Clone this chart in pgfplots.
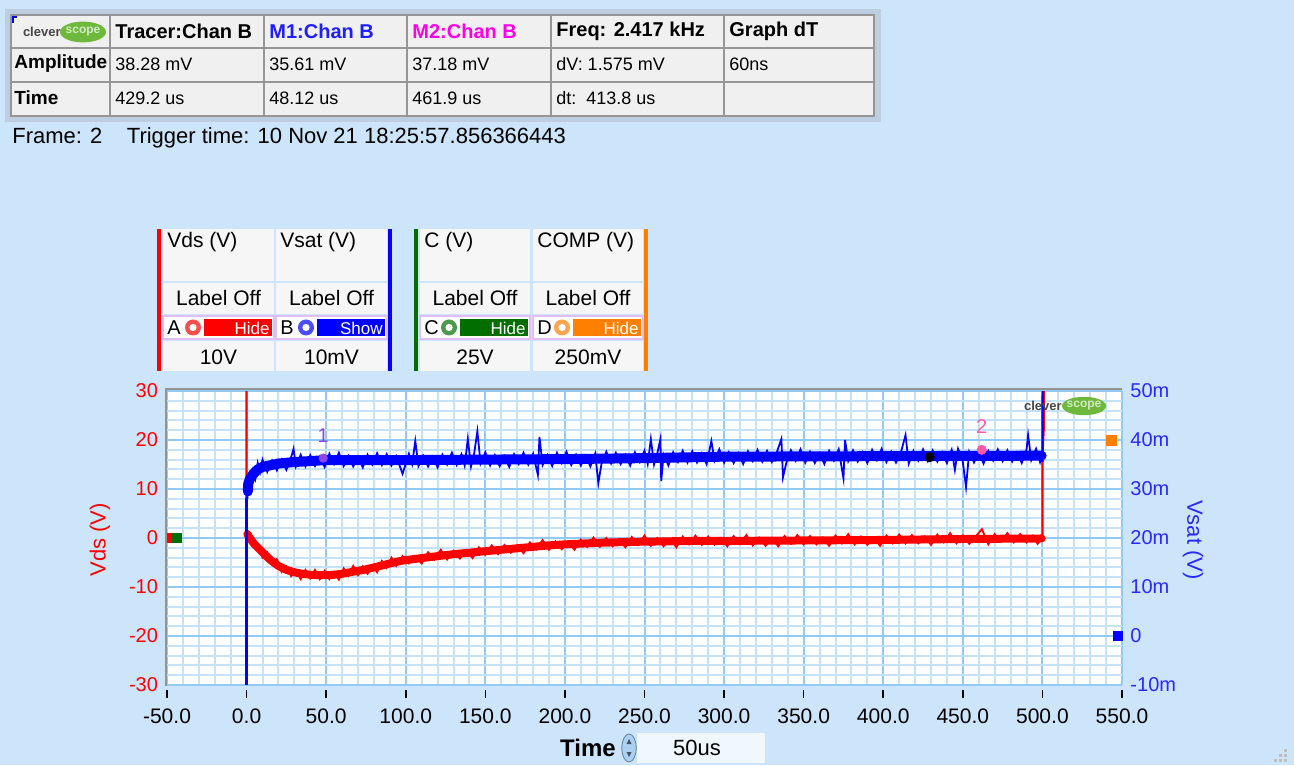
\documentclass[border=0pt]{standalone}
\usepackage{fontspec}
\setmainfont{Liberation Sans}
\usepackage{pgfplots}
\pgfplotsset{compat=1.18}
\definecolor{bg}{RGB}{204,229,250}
\definecolor{gridmin}{RGB}{196,226,250}
\definecolor{gridmaj}{RGB}{145,202,245}
\definecolor{vred}{RGB}{255,0,0}
\definecolor{vblue}{RGB}{0,0,255}
\definecolor{tblue}{RGB}{40,40,255}
\definecolor{cgreen}{RGB}{0,110,0}
\definecolor{corange}{RGB}{255,128,0}
\definecolor{cellbg}{RGB}{240,240,240}
\definecolor{cellline}{RGB}{150,150,150}
\definecolor{frameblue}{RGB}{188,206,224}
\definecolor{m1col}{RGB}{30,30,255}
\definecolor{m2col}{RGB}{255,0,230}
\definecolor{mk1}{RGB}{140,70,230}
\definecolor{mk2}{RGB}{250,90,170}
\definecolor{logogreen}{RGB}{110,185,60}
\definecolor{logotext}{RGB}{70,70,70}
\definecolor{panelbg}{RGB}{246,246,246}
\definecolor{lav}{RGB}{225,190,245}
\definecolor{spin}{RGB}{170,210,240}
\newcommand{\fs}[1]{\fontsize{#1}{#1}\selectfont}
\begin{document}
\begin{tikzpicture}
\path[use as bounding box] (0,0) rectangle (647pt,382.5pt);
\fill[bg] (0,0) rectangle (647pt,382.5pt);
\begin{scope}[x=0.5pt,y=-0.5pt,shift={(0pt,382.5pt)}]
% ---------- top table ----------
\fill[frameblue] (5,9) rectangle (881,122);
\fill[cellbg] (11,15) rectangle (874,116);
\draw[cellline, line width=0.6pt] (11,15) rectangle (874,116);
\foreach \y in {48,82} \draw[cellline, line width=0.6pt] (11,\y) -- (874,\y);
\foreach \x in {110,264,407,551,724} \draw[cellline, line width=0.6pt] (\x,15) -- (\x,116);
\draw[vblue, line width=0.8pt] (13,23) -- (13,17) -- (17,17);
\fill[logogreen] (83,32) ellipse (11.5pt and 5.2pt);
\node[anchor=east, font=\bfseries\fs{6.5}, text=logotext, inner sep=0] at (61,32) {clever};
\node[inner sep=0, font=\bfseries\fs{6}, text=white!70!logogreen] at (83,32) {scope};
\begin{scope}[every node/.style={anchor=west, inner sep=0}]
\node[font=\bfseries\fs{10}] at (115,31) {Tracer:Chan B};
\node[font=\bfseries\fs{10}, text=m1col] at (269,31) {M1:Chan B};
\node[font=\bfseries\fs{10}, text=m2col] at (412,31) {M2:Chan B};
\node[font=\bfseries\fs{10}] at (556,31) {Freq: 2.417 kHz};
\node[font=\bfseries\fs{10}] at (729,31) {Graph dT};
\node[font=\bfseries\fs{9.5}] at (14,64) {Amplitude};
\node[font=\fs{9}] at (115,64) {38.28 mV};
\node[font=\fs{9}] at (269,64) {35.61 mV};
\node[font=\fs{9}] at (412,64) {37.18 mV};
\node[font=\fs{9}] at (556,64) {dV: 1.575 mV};
\node[font=\fs{9}] at (729,64) {60ns};
\node[font=\bfseries\fs{9.5}] at (14,98) {Time};
\node[font=\fs{9}] at (115,98) {429.2 us};
\node[font=\fs{9}] at (269,98) {48.12 us};
\node[font=\fs{9}] at (412,98) {461.9 us};
\node[font=\fs{9}] at (556,98) {dt:\ \ 413.8 us};
\node[font=\fs{11}] at (12,138) {Frame: 2\ \ \ \ Trigger time: 10 Nov 21 18:25:57.856366443};
\end{scope}
% ---------- channel panel ----------
\fill[vred] (157,229) rectangle (161,371);
\fill[vblue] (388,229) rectangle (392,371);
\fill[cgreen] (414,229) rectangle (418,371);
\fill[corange] (644,229) rectangle (648,371);
\foreach \xa/\xb/\ti/\va/\le/\co/\bt/\rx in {163/274/{Vds (V)}/10V/A/vred/Hide/204, 276/387/{Vsat (V)}/10mV/B/vblue/Show/317, 420/530/{C (V)}/25V/C/cgreen/Hide/460, 533/643/{COMP (V)}/250mV/D/corange/Hide/573}{
  \fill[panelbg] (\xa,229) rectangle (\xb,281);
  \fill[panelbg] (\xa,283) rectangle (\xb,314);
  \filldraw[fill=white, draw=lav, line width=0.7pt] (\xa,316) rectangle (\xb,339);
  \fill[panelbg] (\xa,341) rectangle (\xb,371);
  \node[anchor=west, inner sep=0, font=\fs{10.5}] at (\xa+4,242) {\ti};
  \node[inner sep=0, font=\fs{10.5}] at ({(\xa+\xb)/2},298) {Label Off};
  \node[anchor=west, inner sep=0, font=\fs{10}] at (\xa+4,328) {\le};
  \fill[\co!70] (\rx-11,327.5) circle (4pt);
  \fill[white] (\rx-11,327.5) circle (1.8pt);
  \fill[\co] (\rx,319) rectangle (\xb-2,336);
  \node[anchor=east, inner sep=0, text=white, font=\fs{8.5}] at (\xb-4,328) {\bt};
  \node[inner sep=0, font=\fs{10.5}] at ({(\xa+\xb)/2},357) {\va};
}
% ---------- axis titles ----------
\node[rotate=90, text=vred, font=\fs{11}] at (100,540) {Vds (V)};
\node[rotate=-90, text=tblue, font=\fs{11}] at (1193,540) {Vsat (V)};
% ---------- bottom time control ----------
\node[font=\bfseries\fs{12}] at (588,748) {Time};
\fill[white!70!bg] (637,733) rectangle (765,763);
\filldraw[fill=spin, draw=spin!60!black, line width=0.4pt] (629,748) ellipse (3.6pt and 7pt);
\fill[spin!40!black] (626.5,744) -- (631.5,744) -- (629,739) -- cycle;
\fill[spin!40!black] (626.5,752) -- (631.5,752) -- (629,757) -- cycle;
\node[font=\fs{11}] at (697,748) {50us};
\foreach \p in {(1284,749),(1279,754),(1284,754),(1274,759),(1279,759),(1284,759)} \fill[gray!50] \p rectangle ++(3,3);
\end{scope}
% ================= left axis (Vds) =================
\begin{axis}[
  at={(83.5pt,40pt)}, anchor=south west,
  width=477.5pt, height=147pt, scale only axis,
  xmin=-50, xmax=550, ymin=-30, ymax=30,
  axis background/.style={fill=white},
  axis line style={draw=none},
  xtick={-50,0,...,550},
  xticklabels={-50.0,0.0,50.0,100.0,150.0,200.0,250.0,300.0,350.0,400.0,450.0,500.0,550.0},
  ytick={-30,-20,...,30},
  yticklabels={-30,-20,-10,0,10,20,30},
  minor x tick num=4, minor y tick num=4,
  grid=both,
  major grid style={draw=gridmaj, line width=1pt},
  minor grid style={draw=gridmin, line width=1pt},
  xtick pos=bottom, ytick pos=left,
  tick align=outside,
  major tick length=4pt, minor tick length=0pt,
  xtick style={draw=black, line width=0.8pt, yshift=-2.5pt},
  ytick style={draw=none},
  xticklabel style={font=\fs{10.5}, text=black, yshift=-4.5pt},
  yticklabel style={font=\fs{10}, text=vred, xshift=3pt},
]
\addplot[vred, line width=1.1pt] coordinates {(0,32)(0,1.5)(0.5,0.8)};
\addplot[vred, line width=1.1pt] coordinates {(499.5,-0.1)(500,0)(500,17)(500.8,22)(500.8,33)};
\addplot[vred, line width=4pt, line join=round, line cap=round] coordinates {
(0.5,0.8)(2,0)(5,-1.3)(10,-2.9)(15,-4.5)(20,-5.7)(25,-6.5)(30,-7.0)(35,-7.3)(40,-7.5)(45,-7.6)(50,-7.6)(55,-7.5)(60,-7.3)(65,-7.0)(70,-6.7)(75,-6.4)(80,-6.0)(85,-5.6)(90,-5.2)(95,-4.8)(100,-4.5)(110,-4.1)(120,-3.7)(130,-3.3)(140,-3.0)(150,-2.7)(160,-2.4)(170,-2.1)(180,-1.8)(190,-1.5)(200,-1.3)(220,-1.0)(240,-0.8)(260,-0.7)(280,-0.6)(300,-0.6)(350,-0.5)(400,-0.4)(450,-0.2)(499.5,-0.1)};
\addplot[vred, line width=0.9pt] coordinates {
(1,1.3)(4,-1.7)(7,-1.4)(10,-4.0)(13,-2.9)(16,-5.3)(19,-4.3)(22,-6.9)(25,-5.8)(28,-7.8)(31,-6.6)(34,-8.4)(37,-6.5)(40,-8.2)(43,-6.5)(46,-8.4)(49,-6.7)(52,-8.4)(55,-6.9)(58,-8.5)(61,-6.2)(64,-7.7)(67,-5.7)(70,-7.6)(73,-5.8)(76,-7.3)(79,-5.6)(82,-7.0)(85,-4.7)(88,-6.1)(91,-4.0)(94,-5.7)(98,-3.7)(102,-5.2)(106,-3.7)(110,-5.2)(114,-2.9)(118,-4.4)(122,-2.4)(126,-4.4)(130,-2.6)(134,-4.2)(138,-2.6)(142,-4.1)(146,-1.9)(150,-3.4)(154,-1.5)(158,-3.3)(162,-1.4)(166,-3.0)(170,-1.5)(174,-3.1)(178,-0.9)(182,-2.3)(186,-0.4)(190,-2.4)(194,-0.7)(198,-2.3)(202,-0.8)(206,-2.4)(210,-0.3)(214,-1.8)(218,0.1)(222,-1.8)(226,0.0)(230,-1.7)(234,-0.3)(238,-1.9)(242,0.2)(246,-1.4)(250,0.5)(254,-1.6)(258,0.0)(262,-1.7)(266,-0.2)(270,-1.9)(274,0.3)(278,-1.3)(282,0.5)(286,-1.4)(290,0.3)(294,-1.4)(298,0.0)(302,-1.7)(306,0.4)(310,-1.2)(314,0.6)(318,-1.5)(322,0.1)(326,-1.6)(330,0.0)(334,-1.7)(338,0.4)(342,-1.2)(346,0.6)(350,-1.3)(354,0.4)(358,-1.3)(362,0.1)(366,-1.6)(370,0.5)(374,-1.1)(378,0.8)(382,-1.3)(386,0.3)(390,-1.4)(394,0.1)(398,-1.6)(402,0.5)(406,-1.1)(410,0.7)(414,-1.1)(418,0.6)(422,-1.1)(426,0.3)(430,-1.4)(434,0.7)(438,-0.9)(442,1.0)(446,-1.1)(450,0.5)(454,-1.2)(458,0.3)(462,1.8)(466,-1.3)(470,0.8)(474,-0.8)(478,1.0)(482,-0.9)(486,0.8)(490,-0.9)(494,0.5)(497,-1.2)(499.5,-0.1)};
\addplot[only marks, mark=square*, mark size=2.25pt, vred] coordinates {(-48.2,0)};
\addplot[only marks, mark=square*, mark size=2.25pt, cgreen] coordinates {(-43.7,0)};
\addplot[only marks, mark=square*, mark size=2.5pt, corange] coordinates {(543.6,20)};
\end{axis}
% ================= right axis (Vsat) =================
\begin{axis}[
  at={(83.5pt,40pt)}, anchor=south west,
  width=477.5pt, height=147pt, scale only axis,
  xmin=-50, xmax=550, ymin=-10, ymax=50,
  hide x axis,
  axis y line*=right,
  axis line style={draw=none},
  ytick={-10,0,...,50},
  yticklabels={-10m,0,10m,20m,30m,40m,50m},
  major tick length=0pt, minor tick length=0pt,
  ytick style={draw=none},
  yticklabel style={font=\fs{10}, text=tblue, xshift=0.7pt},
]
\addplot[vblue, line width=1.4pt] coordinates {(0,-15)(0,28)(0.5,28.5)};
\addplot[vblue, line width=1.1pt] coordinates {(499.5,36.8)(500,35.5)(500.2,60)};
\addplot[vblue, line width=5pt, line join=round, line cap=round] coordinates {
(0.8,29.5)(1,31)(2,32)(4,33)(7,34)(10,34.5)(20,35.2)(30,35.5)(40,35.7)(50,35.9)(100,35.9)(150,36.0)(200,36.1)(250,36.3)(300,36.6)(350,36.65)(400,36.7)(450,36.75)(499.5,36.8)};
\addplot[vblue, line width=0.9pt] coordinates {
(1,32.0)(2.5,31.2)(4,33.8)(5.5,32.1)(7,35.3)(8.5,33.5)(10,36.0)(13,33.5)(16,35.8)(19,33.8)(22,36.0)(25,33.9)(28,36.5)(29.5,38.2)(31,34.6)(34,37.0)(37,34.6)(40,36.9)(43,34.7)(46,36.6)(49,34.5)(52,37.2)(55,35.1)(58,37.4)(61,34.7)(64,36.8)(67,34.6)(70,36.6)(73,34.4)(76,37.0)(79,35.0)(82,37.3)(85,34.9)(88,37.1)(91,34.8)(94,36.7)(98,33.1)(102,37.2)(104,35.1)(106,39.8)(108,34.7)(111,36.8)(114,34.6)(117,36.6)(120,34.4)(123,37.0)(126,35.0)(129,37.4)(132,34.9)(135,37.1)(137,34.8)(139,40.2)(141,34.6)(143,37.3)(145,41.8)(147,35.2)(150,37.5)(153,34.8)(156,36.9)(159,34.7)(162,36.7)(165,34.5)(168,37.1)(171,35.1)(174,37.4)(177,35.0)(180,37.2)(183,32.9)(184,40.6)(186,34.9)(189,36.9)(192,34.7)(195,37.4)(198,35.3)(201,37.6)(204,34.9)(207,37.0)(210,34.8)(213,36.8)(216,34.6)(219,37.2)(221,31.2)(223,35.2)(226,37.6)(229,35.2)(232,37.4)(235,35.1)(238,37.0)(241,34.8)(244,37.5)(247,35.5)(250,37.8)(252,35.1)(254,40.2)(256,35.0)(258,37.2)(260,40.2)(260.5,31.6)(262,37.0)(265,34.8)(268,37.5)(271,35.5)(274,37.8)(277,35.4)(280,37.7)(283,35.4)(286,37.3)(289,35.1)(292,39.8)(294,35.8)(297,38.1)(300,35.4)(303,37.5)(306,35.3)(309,37.3)(312,35.1)(315,37.7)(318,35.7)(321,38.0)(324,35.6)(327,37.8)(330,35.5)(333,37.4)(336,40.2)(337,32.4)(339,35.2)(342,37.9)(345,35.8)(348,38.1)(351,35.4)(354,37.6)(357,35.3)(360,37.3)(363,35.1)(366,37.8)(369,35.8)(372,38.1)(375,32.2)(376,40.0)(378,35.7)(381,37.9)(384,35.6)(387,37.5)(390,35.3)(393,38.0)(396,35.9)(399,38.2)(402,35.5)(405,37.6)(408,35.4)(411,37.4)(414,41.0)(416,35.2)(419,37.8)(422,35.8)(425,38.1)(428,35.7)(431,37.9)(434,35.6)(437,37.5)(440,35.3)(443,38.0)(445,33.9)(447,38.2)(450,35.5)(452,30.4)(454,37.6)(457,35.4)(460,37.4)(463,35.2)(466,37.8)(469,35.8)(472,38.1)(475,35.7)(478,37.9)(481,35.6)(484,37.5)(487,35.3)(490,38.0)(491,41.0)(493,35.9)(496,38.2)(498.5,35.5)(499.5,36.8)};
\addplot[only marks, mark=square*, mark size=2.25pt, vblue] coordinates {(547.4,0)};
\addplot[only marks, mark=*, mark size=2.1pt, mk1] coordinates {(48.12,36.3)};
\node[text=mk1, font=\fs{10}] at (axis cs:48.12,36.3) [yshift=11.5pt] {1};
\addplot[only marks, mark=*, mark size=2.3pt, mk2] coordinates {(461.9,38.0)};
\node[text=mk2, font=\fs{10}] at (axis cs:461.9,38.0) [yshift=11.5pt] {2};
\addplot[only marks, mark=*, mark size=2.3pt, black] coordinates {(429.2,36.5)};
\end{axis}
% ---------- plot frame & logo ----------
\begin{scope}[x=0.5pt,y=-0.5pt,shift={(0pt,382.5pt)}]
\draw[gray!85, line width=1pt] (165.5,686) -- (165.5,389.5) -- (1122,389.5);
\fill[logogreen] (1084,406) ellipse (11pt and 4.6pt);
\node[anchor=east, font=\bfseries\fs{6.5}, text=logotext, inner sep=0] at (1062,406) {clever};
\node[inner sep=0, font=\bfseries\fs{6}, text=white!70!logogreen] at (1084,406) {scope};
\end{scope}
\end{tikzpicture}
\end{document}
